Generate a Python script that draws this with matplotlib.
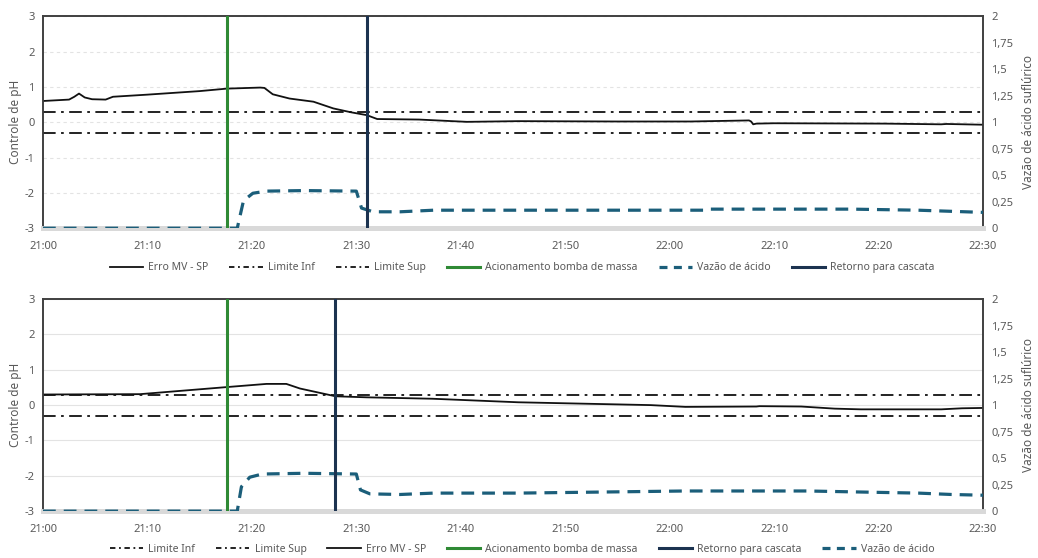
import numpy as np
import matplotlib
matplotlib.use('Agg')
import matplotlib.pyplot as plt
from matplotlib.lines import Line2D

plt.rcParams['font.family'] = ['Noto Sans', 'DejaVu Sans']
plt.rcParams['axes.unicode_minus'] = False

# minutes after 21:00
x_ticks = [0, 10, 20, 30, 40, 50, 60, 70, 80, 90]
x_labels = ['21:00', '21:10', '21:20', '21:30', '21:40', '21:50', '22:00', '22:10', '22:20', '22:30']
ph_ticks = [-3, -2, -1, 0, 1, 2, 3]
acid_ticks = [0, 0.25, 0.5, 0.75, 1, 1.25, 1.5, 1.75, 2]
acid_labels = ['0', '0,25', '0,5', '0,75', '1', '1,25', '1,5', '1,75', '2']
lim_inf = -0.3
lim_sup = 0.3

# ensaio 1
t_err1 = [0, 2.5, 3.0, 3.45, 4.0, 4.7, 6.0, 6.7, 10, 15, 17.6, 20.8, 21.2, 22.0, 23.6, 25.9, 27.8, 29.5, 31.0, 32.0, 36.0, 40.6, 45.5, 55, 62, 67.6, 67.8, 68.0, 68.3, 70, 80.6, 86, 86.5, 89.8, 90]
v_err1 = [0.6, 0.64, 0.72, 0.81, 0.7, 0.65, 0.64, 0.72, 0.78, 0.88, 0.95, 0.98, 0.97, 0.79, 0.67, 0.58, 0.39, 0.28, 0.2, 0.09, 0.075, 0.01, 0.03, 0.02, 0.02, 0.05, 0.02, -0.06, -0.04, -0.03, -0.04, -0.06, -0.05, -0.07, -0.07]
t_acid1 = [0, 18.6, 19.2, 20.1, 21.4, 25, 30.0, 30.5, 31.6, 34.2, 37.4, 45.5, 63.4, 63.7, 77.4, 83.8, 89.8, 90]
v_acid1 = [0, 0, 0.26, 0.33, 0.35, 0.355, 0.35, 0.19, 0.155, 0.155, 0.17, 0.17, 0.17, 0.18, 0.18, 0.17, 0.15, 0.15]
bomba1 = 17.6
retorno1 = 31.0

# ensaio 2
t_err2 = [0, 9.3, 17.6, 21.4, 23.3, 24.6, 28.0, 31.0, 37.3, 45.5, 58.2, 61.5, 68.3, 68.6, 72.6, 75.8, 78.3, 86, 88, 90]
v_err2 = [0.3, 0.31, 0.51, 0.6, 0.6, 0.47, 0.25, 0.22, 0.18, 0.08, 0.0, -0.05, -0.04, -0.03, -0.04, -0.1, -0.12, -0.12, -0.09, -0.08]
t_acid2 = [0, 18.6, 19.0, 19.8, 21.0, 25, 30.0, 30.4, 31.3, 34.2, 37.4, 45.5, 61.5, 73.2, 80.5, 83.8, 87, 90]
v_acid2 = [0, 0, 0.23, 0.32, 0.35, 0.357, 0.35, 0.2, 0.163, 0.157, 0.17, 0.17, 0.19, 0.19, 0.176, 0.17, 0.157, 0.15]
bomba2 = 17.6
retorno2 = 28.0

c_err = '#111111'
c_lim = '#111111'
c_green = '#2f8a35'
c_navy = '#1c3350'
c_acid = '#1b5e7a'
c_text = '#595959'

fig = plt.figure(figsize=(10.38, 5.58), dpi=100)


def draw_panel(rect, t_err, v_err, t_acid, v_acid, bomba, retorno, order, legend_y, grid_ls):
    ax = fig.add_axes(rect)
    ax2 = ax.twinx()
    ax.set_xlim(0, 90)
    ax.set_ylim(-3, 3)
    ax2.set_ylim(0, 2)

    ax.plot(t_err, v_err, color=c_err, lw=1.3, zorder=4)
    ax.axhline(lim_inf, color=c_lim, lw=1.3, dashes=(7, 3, 1.5, 3), zorder=3)
    ax.axhline(lim_sup, color=c_lim, lw=1.3, dashes=(7, 3, 1.5, 3), zorder=3)
    ax2.axvline(bomba, color=c_green, lw=2.2, zorder=5)
    ax2.axvline(retorno, color=c_navy, lw=2.2, zorder=5)
    ax2.plot(t_acid, v_acid, color=c_acid, lw=2.3, dashes=(4, 2.5), zorder=4)

    ax.set_yticks(ph_ticks)
    ax.set_xticks(x_ticks)
    ax.set_xticklabels(x_labels)
    ax2.set_yticks(acid_ticks)
    ax2.set_yticklabels(acid_labels)
    ax.grid(axis='y', color='#e3e3e3', lw=0.8, ls=grid_ls)
    ax.set_axisbelow(True)

    for a in (ax, ax2):
        a.tick_params(length=0, labelsize=8, colors=c_text, pad=6)
        a.tick_params(axis='x', pad=9)
        for side in ('left', 'right', 'top'):
            a.spines[side].set_color('#404040')
            a.spines[side].set_linewidth(1.2)
        a.spines['bottom'].set_color('#d9d9d9')
        a.spines['bottom'].set_linewidth(3.5)
    ax.set_ylabel('Controle de pH', fontsize=8.5, color=c_text, labelpad=2)
    ax2.set_ylabel('Vazão de ácido suflúrico', fontsize=8.5, color=c_text, labelpad=6)

    handles = {
        'Erro MV - SP': Line2D([], [], color=c_err, lw=1.3),
        'Limite Inf': Line2D([], [], color=c_lim, lw=1.3, dashes=(3, 2, 1, 2)),
        'Limite Sup': Line2D([], [], color=c_lim, lw=1.3, dashes=(3, 2, 1, 2)),
        'Acionamento bomba de massa': Line2D([], [], color=c_green, lw=2.2),
        'Vazão de ácido': Line2D([], [], color=c_acid, lw=2.3, dashes=(2.5, 2)),
        'Retorno para cascata': Line2D([], [], color=c_navy, lw=2.2),
    }
    fig.legend([handles[k] for k in order], order, loc='center', bbox_to_anchor=(0.503, legend_y),
               ncol=6, frameon=False, fontsize=7.5, labelcolor=c_text, handlelength=3.2,
               columnspacing=2.0, handletextpad=0.5)
    return ax, ax2


draw_panel([0.0414, 0.591, 0.9056, 0.38], t_err1, v_err1, t_acid1, v_acid1, bomba1, retorno1,
           ['Erro MV - SP', 'Limite Inf', 'Limite Sup', 'Acionamento bomba de massa',
            'Vazão de ácido', 'Retorno para cascata'], 0.52, (0, (3, 3)))
draw_panel([0.0414, 0.084, 0.9056, 0.38], t_err2, v_err2, t_acid2, v_acid2, bomba2, retorno2,
           ['Limite Inf', 'Limite Sup', 'Erro MV - SP', 'Acionamento bomba de massa',
            'Retorno para cascata', 'Vazão de ácido'], 0.016, '-')

fig.savefig('out.png', dpi=100)
